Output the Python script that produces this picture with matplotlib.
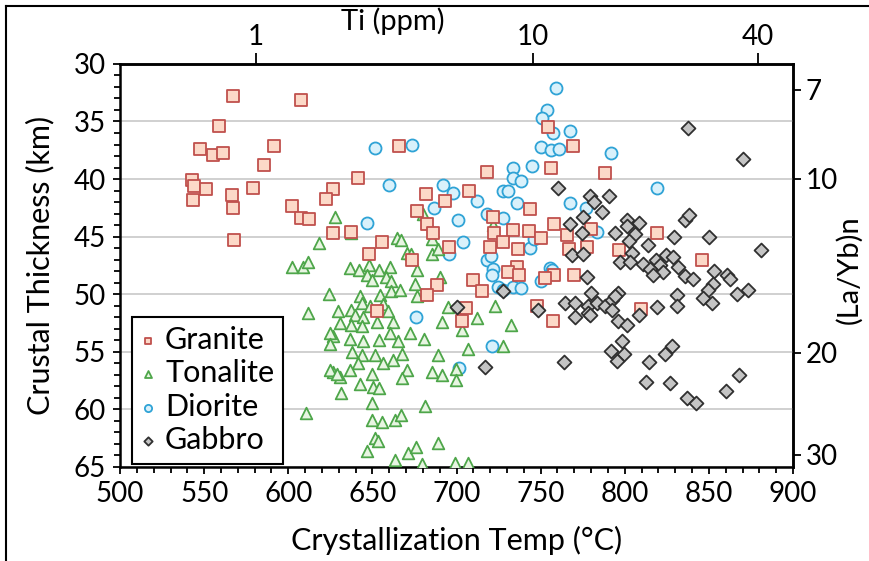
import numpy as np
import matplotlib.pyplot as plt
from matplotlib.lines import Line2D
from matplotlib.ticker import MultipleLocator, FixedLocator

plt.rcParams["font.family"] = ["Lato", "DejaVu Sans"]

# crystallization temperature (C) and crustal thickness (km) per rock type
granite_temp = [567.0, 607.4, 558.8, 547.6, 555.5, 561.4, 591.7, 585.8, 542.6, 544.0,
                551.1, 579.2, 626.6, 566.6, 543.6, 567.0, 602.1, 607.4, 612.5, 622.4,
                626.8, 568.0, 665.8, 641.7, 718.3, 754.6, 756.2, 681.9, 707.5, 769.4,
                788.3, 693.2, 676.7, 682.2, 686.2, 721.5, 722.3, 733.4, 743.1, 750.1,
                743.7, 757.9, 637.1, 655.5, 648.2, 673.4, 695.7, 719.9, 727.5, 736.8,
                736.2, 730.8, 737.3, 709.6, 715.0, 688.1, 682.6, 705.7, 703.1, 748.0,
                757.9, 752.6, 757.5, 652.5, 765.9, 779.8, 819.0, 767.1, 777.8, 796.8,
                845.8, 769.9, 809.5]
granite_thick = [32.8, 33.1, 35.4, 37.4, 37.9, 37.7, 37.1, 38.8, 40.1, 40.6,
                 40.9, 40.8, 40.9, 41.4, 41.8, 42.5, 42.3, 43.4, 43.5, 41.7,
                 44.7, 45.3, 37.1, 39.9, 39.4, 35.5, 39.0, 41.3, 41.0, 37.1,
                 39.5, 41.9, 42.8, 43.9, 44.7, 43.3, 44.7, 44.4, 44.5, 45.1,
                 42.6, 43.9, 44.6, 45.5, 46.5, 47.0, 45.9, 45.9, 45.5, 46.1,
                 47.6, 48.1, 48.3, 48.8, 49.7, 49.2, 50.1, 51.2, 52.3, 51.0,
                 48.3, 48.6, 52.3, 51.5, 44.9, 44.3, 44.7, 46.1, 45.9, 46.2,
                 47.0, 48.3, 51.3]

tonalite_temp = [627.8, 618.5, 602.1, 609.0, 612.0, 624.4, 611.6, 629.8, 637.1, 679.9,
                 721.5, 664.5, 666.8, 685.3, 670.4, 672.8, 685.3, 689.2, 636.6, 642.2,
                 648.2, 654.1, 660.5, 646.6, 649.6, 658.1, 660.9, 676.7, 675.3, 690.2,
                 660.9, 666.4, 642.7, 654.5, 676.3, 637.1, 643.7, 648.6, 656.5, 659.5,
                 639.7, 644.6, 695.1, 722.9, 712.0, 691.3, 732.2, 630.8, 637.1, 662.5,
                 643.7, 652.6, 703.1, 727.8, 707.0, 689.2, 626.8, 636.6, 644.6, 654.1,
                 660.5, 665.4, 672.4, 680.7, 637.7, 643.7, 651.6, 662.5, 667.5, 641.7,
                 656.5, 626.8, 636.6, 630.8, 649.6, 670.8, 685.3, 691.3, 699.7, 667.5,
                 699.7, 642.7, 650.6, 654.1, 631.2, 649.6, 681.3, 649.6, 655.5, 663.4,
                 666.8, 651.6, 653.6, 689.2, 646.6, 671.4, 675.9, 663.4, 679.3, 699.1,
                 707.0, 624.8, 624.8, 624.8, 628.8, 610.6]
tonalite_thick = [43.3, 45.6, 47.6, 47.6, 47.2, 50.0, 51.6, 51.5, 44.7, 43.0,
                  44.0, 45.1, 45.3, 45.2, 46.4, 46.5, 46.5, 46.1, 47.7, 47.9,
                  47.5, 47.9, 47.6, 48.3, 48.8, 48.5, 48.9, 47.9, 49.1, 48.5,
                  49.7, 49.6, 50.2, 50.1, 50.2, 51.4, 50.8, 51.0, 50.9, 51.5,
                  51.8, 52.0, 51.1, 51.0, 52.1, 52.4, 52.7, 52.5, 52.7, 52.4,
                  52.8, 52.4, 53.1, 54.5, 54.8, 55.3, 53.6, 53.9, 54.1, 54.0,
                  53.4, 54.1, 53.4, 53.9, 55.0, 55.3, 55.3, 55.7, 55.2, 56.0,
                  56.0, 56.8, 56.6, 57.2, 56.9, 56.6, 56.8, 57.0, 56.5, 57.3,
                  57.5, 57.8, 58.1, 58.2, 58.6, 59.5, 59.7, 60.9, 61.1, 60.9,
                  60.5, 62.5, 62.8, 62.9, 63.6, 63.8, 63.3, 64.4, 64.8, 64.7,
                  64.7, 53.4, 54.3, 56.6, 56.9, 60.3]

diorite_temp = [651.6, 673.4, 660.1, 692.2, 698.1, 733.8, 733.4, 738.2, 744.7, 727.8,
                730.8, 750.1, 756.0, 759.2, 753.6, 751.0, 757.5, 767.5, 761.1, 791.8,
                819.0, 686.6, 701.1, 712.0, 718.0, 727.8, 735.7, 646.6, 703.7, 695.7,
                718.0, 720.3, 721.9, 720.9, 724.8, 727.8, 733.4, 738.2, 743.7, 746.1,
                755.6, 750.1, 675.9, 720.9, 701.4, 767.5, 777.0, 783.3, 756.6]
diorite_thick = [37.3, 37.0, 40.5, 40.5, 41.2, 39.0, 39.9, 40.2, 38.9, 41.0,
                 41.0, 37.2, 37.5, 32.1, 34.0, 34.7, 36.0, 35.8, 37.4, 37.7,
                 40.8, 42.5, 43.6, 41.9, 43.0, 43.4, 42.1, 43.8, 45.5, 46.5,
                 47.0, 46.7, 47.8, 48.3, 49.4, 49.6, 49.4, 49.5, 46.0, 45.2,
                 47.7, 48.9, 52.0, 54.5, 56.4, 42.1, 42.5, 44.6, 47.9]

gabbro_temp = [837.8, 870.5, 760.5, 779.4, 790.9, 781.7, 786.3, 775.4, 767.5, 774.4,
               801.6, 808.2, 801.6, 794.2, 806.1, 802.7, 814.0, 829.3, 850.3, 835.8,
               838.4, 880.8, 768.5, 775.4, 804.1, 797.2, 803.1, 811.0, 818.6, 824.5,
               828.9, 820.9, 831.8, 815.0, 823.0, 817.0, 835.8, 840.8, 853.1, 860.6,
               862.6, 777.4, 852.6, 849.7, 873.5, 866.9, 846.7, 851.7, 830.9, 830.9,
               819.0, 779.8, 764.5, 770.5, 778.4, 783.3, 788.3, 792.3, 796.2, 794.2,
               778.4, 792.3, 770.5, 779.4, 796.2, 801.6, 808.2, 798.2, 791.7, 799.6,
               795.6, 763.9, 814.6, 824.0, 827.9, 812.7, 826.9, 836.8, 842.4, 860.2,
               868.1, 717.0, 700.1, 727.8, 748.6]
gabbro_thick = [35.6, 38.3, 40.8, 41.5, 41.5, 42.0, 42.9, 43.3, 43.9, 44.7,
                43.6, 43.8, 44.1, 44.7, 44.8, 45.4, 45.7, 45.0, 45.0, 43.6,
                43.1, 46.2, 46.6, 46.5, 46.4, 47.2, 47.2, 47.4, 47.0, 46.6,
                46.8, 47.5, 47.6, 47.8, 48.1, 48.3, 48.4, 48.7, 48.0, 48.3,
                48.7, 48.5, 49.1, 49.6, 49.6, 50.0, 50.3, 50.8, 50.1, 51.0,
                51.1, 49.9, 50.8, 50.8, 51.0, 50.8, 51.0, 50.5, 49.9, 50.2,
                51.6, 51.4, 52.0, 51.8, 52.3, 52.7, 51.8, 54.1, 54.9, 55.2,
                55.8, 55.9, 55.9, 55.2, 54.5, 57.6, 57.7, 59.0, 59.5, 58.4,
                57.0, 56.3, 51.1, 49.7, 51.4]

ti_ticks = [1, 10, 40]
layb_ticks = [7, 10, 20, 30]

# Ti-in-zircon style conversion for the top axis
TI_A, TI_B = 6.189, 5286.0
# (La/Yb)n conversion for the right axis
LY_A, LY_B = 21.8, -10.2


def temp_to_ti(t):
    t = np.asarray(t, dtype=float)
    return 10 ** (TI_A - TI_B / np.clip(t + 273.15, 1.0, None))


def ti_to_temp(ti):
    ti = np.clip(np.asarray(ti, dtype=float), 1e-6, 1e5)
    return TI_B / (TI_A - np.log10(ti)) - 273.15


def thick_to_layb(th):
    return np.exp((np.asarray(th, dtype=float) - LY_B) / LY_A)


def layb_to_thick(ly):
    ly = np.clip(np.asarray(ly, dtype=float), 1e-6, None)
    return LY_A * np.log(ly) + LY_B


fig = plt.figure(figsize=(8.7, 5.61), dpi=100)
ax = fig.add_axes([0.138, 0.168, 0.7735, 0.718])

styles = {
    "Granite": dict(marker="s", s=70, facecolor="#fcd9c8", edgecolor="#c0504d"),
    "Tonalite": dict(marker="^", s=70, facecolor="#e8f5e2", edgecolor="#4ea64a"),
    "Diorite": dict(marker="o", s=75, facecolor="#d9f1fb", edgecolor="#2fa3d6"),
    "Gabbro": dict(marker="D", s=50, facecolor="#c4c4c4", edgecolor="#303030"),
}
series = {
    "Diorite": (diorite_temp, diorite_thick),
    "Tonalite": (tonalite_temp, tonalite_thick),
    "Granite": (granite_temp, granite_thick),
    "Gabbro": (gabbro_temp, gabbro_thick),
}
handles = {}
for z, (name, (tx, ty)) in enumerate(series.items()):
    handles[name] = ax.scatter(tx, ty, linewidths=1.3, zorder=3 + z, label=name, **styles[name])

ax.set_xlim(500, 900)
ax.set_ylim(65, 30)
ax.xaxis.set_major_locator(MultipleLocator(50))
ax.xaxis.set_minor_locator(MultipleLocator(10))
ax.yaxis.set_major_locator(MultipleLocator(5))
ax.yaxis.set_minor_locator(MultipleLocator(1))
ax.grid(axis="y", which="major", color="#c8c8c8", lw=1.2, zorder=0)
ax.set_axisbelow(True)
for sp in ax.spines.values():
    sp.set_linewidth(1.8)
ax.tick_params(which="both", direction="out", width=1.3, labelsize=20, top=False, right=False)
ax.tick_params(which="major", length=5)
ax.tick_params(which="minor", length=4)
ax.tick_params(axis="x", which="major", pad=5)
ax.tick_params(axis="y", which="major", pad=5)
ax.set_xlabel("Crystallization Temp (\u00b0C)", fontsize=22, va="center")
ax.xaxis.set_label_coords(0.5, -0.183)
ax.set_ylabel("Crustal Thickness (km)", fontsize=22, va="center")
ax.yaxis.set_label_coords(-0.119, 0.5)

top = ax.secondary_xaxis("top", functions=(temp_to_ti, ti_to_temp))
top.xaxis.set_major_locator(FixedLocator(ti_ticks))
top.xaxis.set_minor_locator(FixedLocator([]))
top.set_xticklabels([str(v) for v in ti_ticks])
top.tick_params(direction="out", length=8, width=1.3, labelsize=20, pad=2)
top.spines["top"].set_linewidth(1.8)
fig.text(0.452, 0.962, "Ti (ppm)", fontsize=21, ha="center", va="center")

right = ax.secondary_yaxis("right", functions=(thick_to_layb, layb_to_thick))
right.yaxis.set_major_locator(FixedLocator(layb_ticks))
right.yaxis.set_minor_locator(FixedLocator([]))
right.set_yticklabels([str(v) for v in layb_ticks])
right.tick_params(direction="out", length=6, width=1.3, labelsize=20, pad=3)
right.spines["right"].set_linewidth(1.8)
fig.text(0.976, 0.52, "(La/Yb)n", fontsize=21, rotation=90, ha="center", va="center")

order = ["Granite", "Tonalite", "Diorite", "Gabbro"]
leg = ax.legend([handles[k] for k in order], order, loc="lower left",
                bbox_to_anchor=(0.017, 0.008), fontsize=22, markerscale=0.6,
                frameon=True, fancybox=False, framealpha=1, edgecolor="black",
                handlelength=0.5, handletextpad=0.3, labelspacing=0.18,
                borderpad=0.3, borderaxespad=0.0)
leg.get_frame().set_linewidth(1.5)
leg.set_zorder(20)

# outer frame of the figure (left and top only, as in the source)
fig.add_artist(Line2D([0.007, 0.007], [0.0, 0.989], color="black", lw=1.5, transform=fig.transFigure))
fig.add_artist(Line2D([0.007, 1.0], [0.989, 0.989], color="black", lw=1.5, transform=fig.transFigure))

fig.savefig("out.png", dpi=100)
